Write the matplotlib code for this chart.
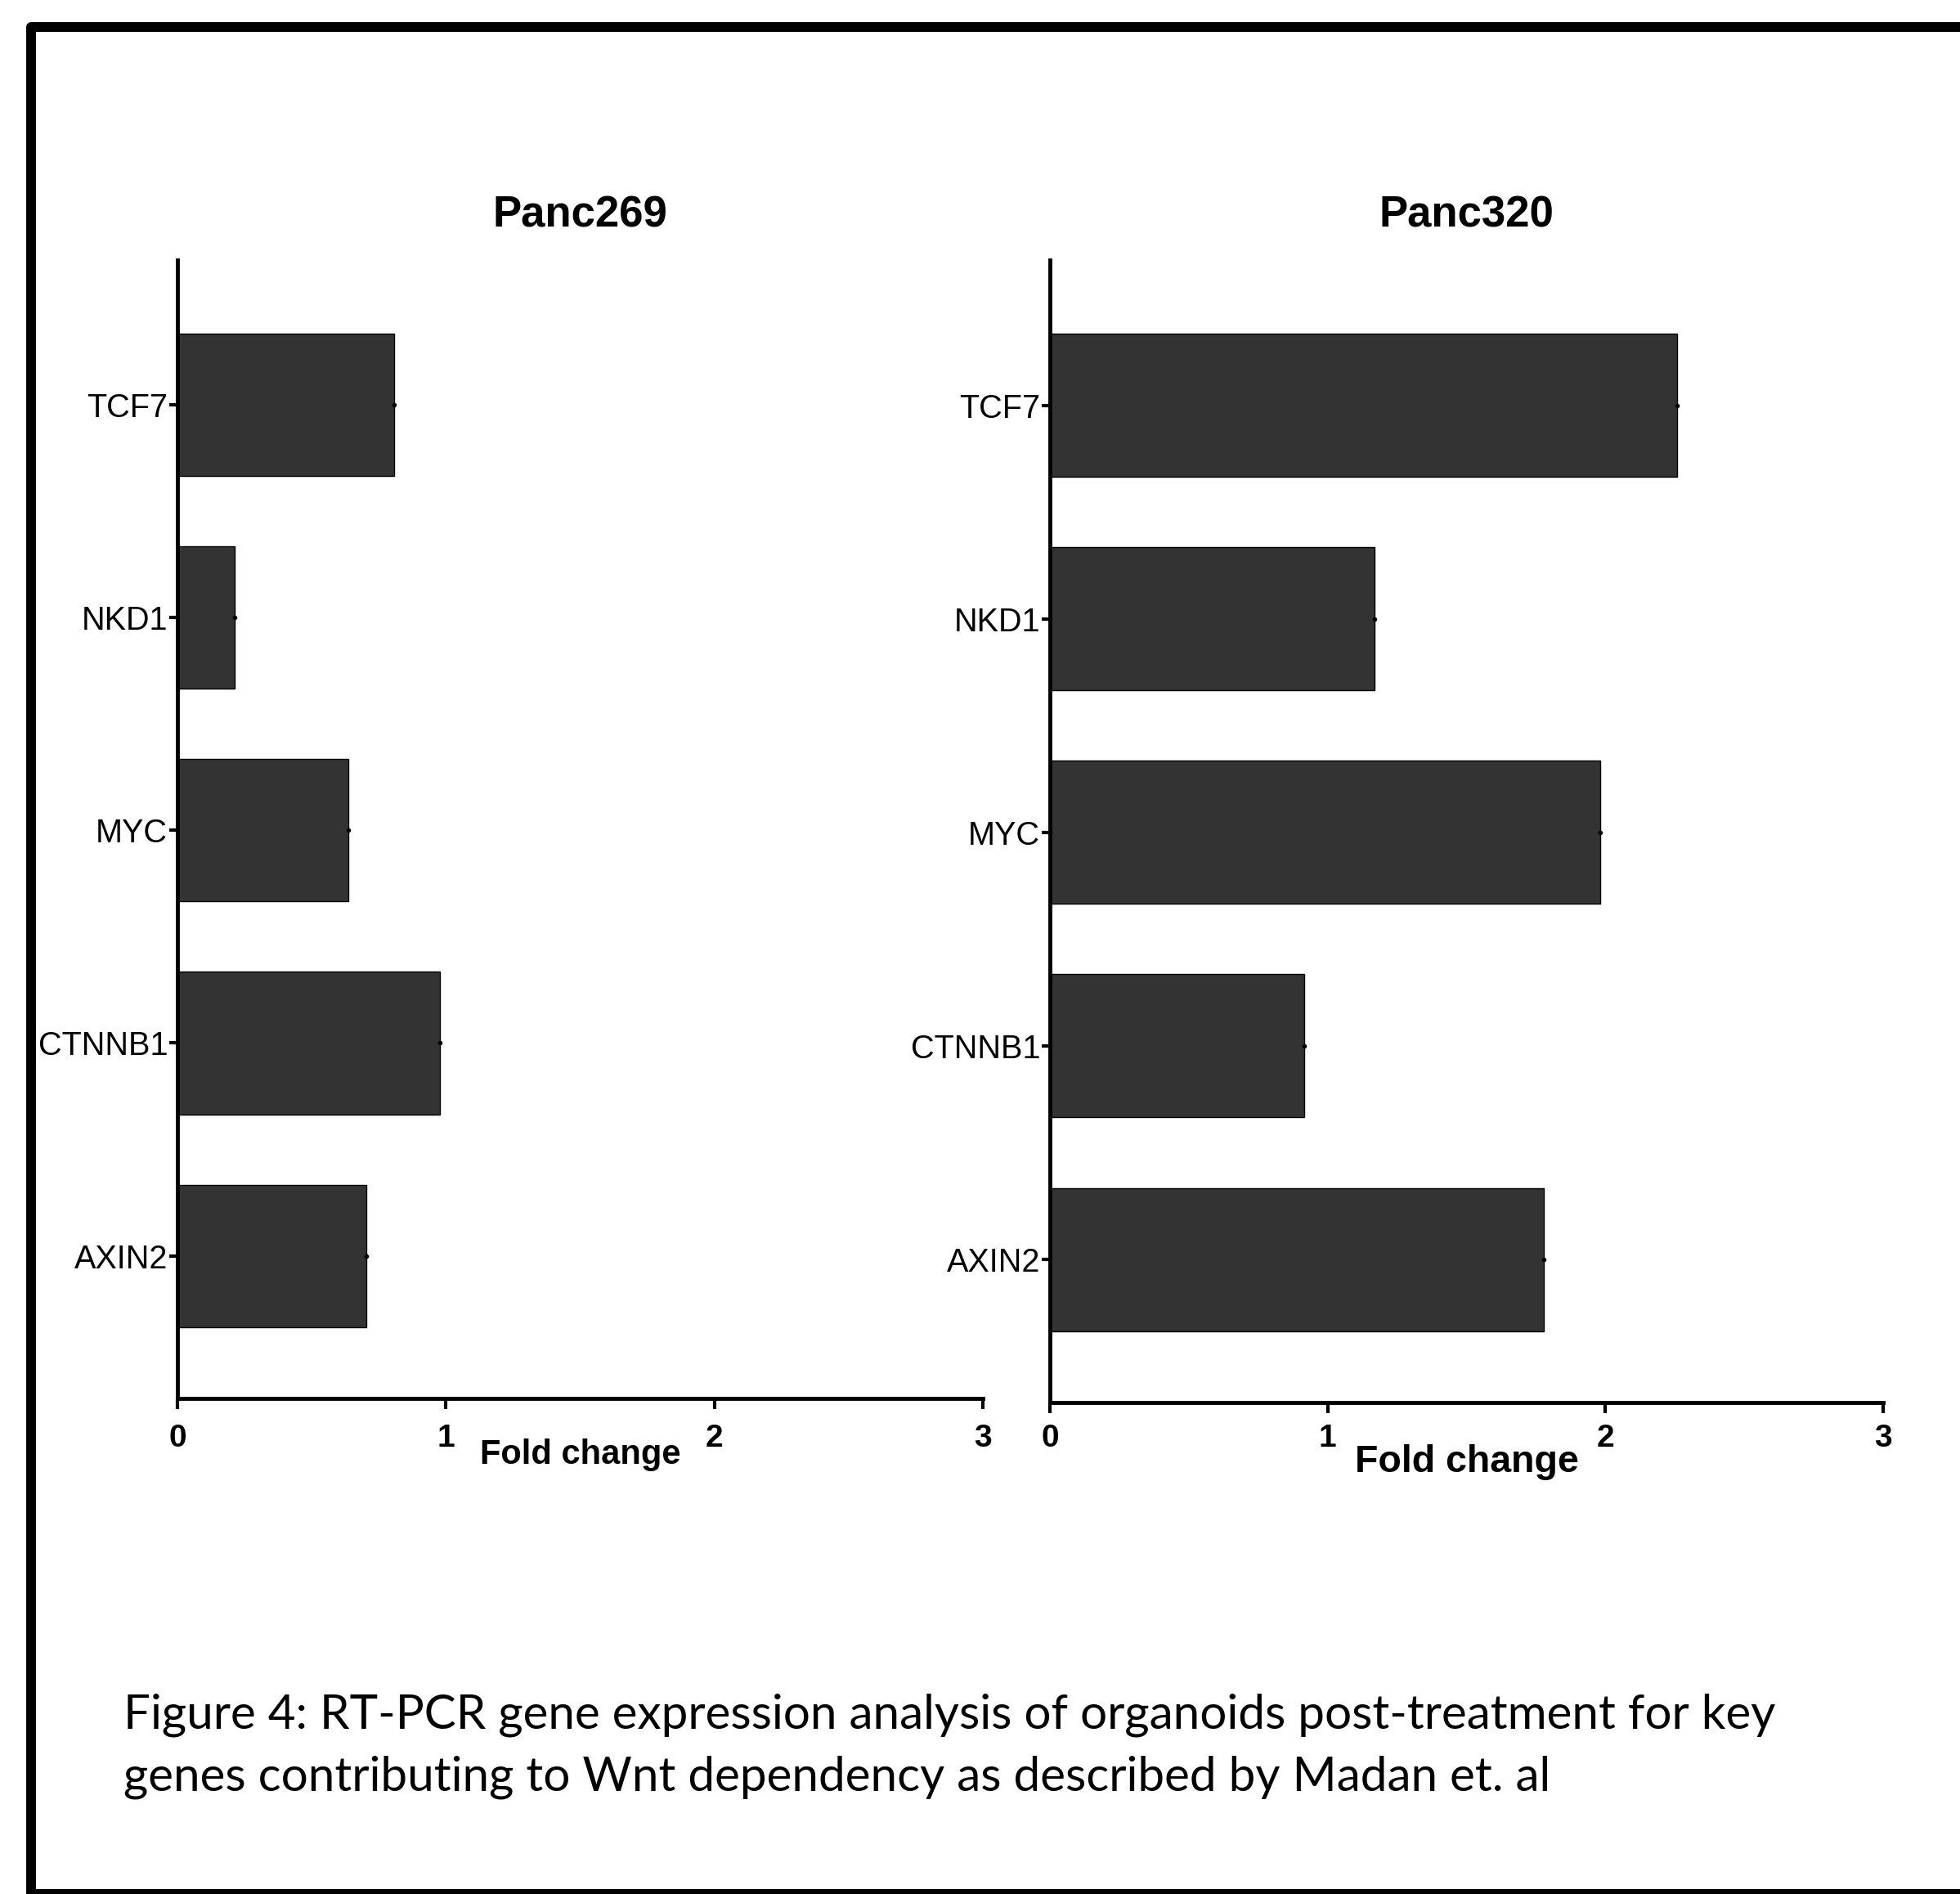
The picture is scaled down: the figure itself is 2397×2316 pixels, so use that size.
import matplotlib
matplotlib.use("Agg")
import matplotlib.pyplot as plt
from matplotlib.lines import Line2D

# data
genes = ["AXIN2", "CTNNB1", "MYC", "NKD1", "TCF7"]
panc269_fold = [0.703, 0.978, 0.638, 0.213, 0.807]
panc320_fold = [1.778, 0.915, 1.980, 1.170, 2.258]
x_ticks = [0, 1, 2, 3]
panel_titles = ["Panc269", "Panc320"]
x_label = "Fold change"
caption_lines = [
    "Figure 4: RT-PCR gene expression analysis of organoids post-treatment for key",
    "genes contributing to Wnt dependency as described by Madan et. al",
]

W, H = 2397, 2316
DPI = 100
BAR_COLOR = "#333333"
ARIAL = ["Liberation Sans", "DejaVu Sans"]

fig = plt.figure(figsize=(W / DPI, H / DPI), dpi=DPI)


def fx(x):
    return x / W


def fy(y):
    return 1 - y / H


def panel(box, values, title, label_size, label_base, tick_pad):
    """box = (x0, y_top, x1, y_bottom) in pixels."""
    x0, yt, x1, yb = box
    ax = fig.add_axes([fx(x0), fy(yb), fx(x1) - fx(x0), fy(yt) - fy(yb)])
    pos = list(range(len(genes)))
    ax.barh(pos, values, height=0.67, color=BAR_COLOR, edgecolor="black",
            linewidth=1.0, zorder=2)
    ax.plot(values, pos, "o", color="black", ms=3, zorder=3)

    ax.set_xlim(0, 3)
    ax.set_ylim(-0.67, 4.68)
    ax.set_xticks(x_ticks)
    ax.set_xticklabels([str(t) for t in x_ticks], family=ARIAL,
                       fontweight="bold", fontsize=28)
    ax.set_yticks(pos)
    ax.set_yticklabels(genes, family=ARIAL, fontsize=28.5)

    for side in ("top", "right"):
        ax.spines[side].set_visible(False)
    for side in ("left", "bottom"):
        ax.spines[side].set_linewidth(3.5)
        ax.spines[side].set_zorder(4)
    ax.tick_params(axis="y", length=7, width=3, pad=1.5)
    ax.tick_params(axis="x", length=9, width=3, pad=tick_pad)

    cx = (x0 + x1) / 2
    fig.text(fx(cx), fy(278), title, ha="center", va="baseline",
             family=ARIAL, fontweight="bold", fontsize=38)
    fig.text(fx(cx), fy(label_base), x_label, ha="center", va="baseline",
             family=ARIAL, fontweight="bold", fontsize=label_size)
    return ax


panel((217, 318, 1202, 1710), panc269_fold, panel_titles[0], 30, 1790, 13)
panel((1284, 318, 2303, 1715), panc320_fold, panel_titles[1], 33.5, 1800, 10)

for line, base in zip(caption_lines, [2113, 2190]):
    fig.text(fx(151), fy(base), line, ha="left", va="baseline",
             family=["Lato", "DejaVu Sans"], fontsize=42)

# frame around the figure (cut off on the right)
border = Line2D([fx(2460), fx(38), fx(38), fx(2460)],
                [fy(33), fy(33), fy(2316), fy(2316)],
                transform=fig.transFigure, color="black", lw=8.6,
                solid_joinstyle="round")
fig.add_artist(border)

fig.savefig("out.png", dpi=DPI)
